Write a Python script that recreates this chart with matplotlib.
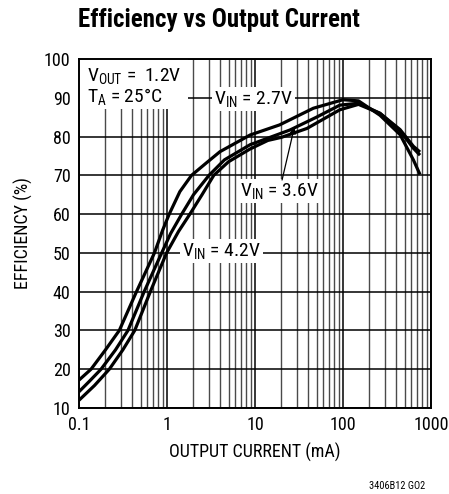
import matplotlib
matplotlib.use("Agg")
import matplotlib.pyplot as plt
from matplotlib import font_manager as fm
from matplotlib.patches import Rectangle
from matplotlib.ticker import FixedLocator, NullFormatter, FixedFormatter

_names = {f.name for f in fm.fontManager.ttflist}
_pref = ['Liberation Sans Narrow', 'Roboto Condensed', 'Archivo Narrow', 'Barlow Semi Condensed',
         'Asap Condensed', 'Liberation Sans']
NARROW = next(n for n in _pref if n in _names)
FONT = [NARROW, 'DejaVu Sans']
plt.rcParams['font.family'] = FONT
plt.rcParams['mathtext.fontset'] = 'custom'
plt.rcParams['mathtext.rm'] = NARROW
plt.rcParams['mathtext.it'] = NARROW
plt.rcParams['mathtext.default'] = 'rm'

# ---- data ----
x_27 = [0.1, 0.137, 0.2, 0.287, 0.45, 0.72, 0.89, 1.06, 1.4, 1.9, 2.8, 4, 8.8, 19, 46, 100, 150, 263, 445, 630, 750]
y_27 = [17.2, 20, 25, 30, 40, 50, 55.8, 60, 65.8, 70, 73.2, 76.1, 80.4, 83, 87.3, 89.5, 89.2, 85.5, 80.5, 74, 70.2]

x_36 = [0.1, 0.13, 0.178, 0.26, 0.36, 0.55, 0.87, 1.1, 1.47, 2.0, 3.0, 4.5, 8.8, 25, 50, 92, 150, 263, 445, 630, 750]
y_36 = [14.2, 16.8, 20, 25, 30, 40, 50, 55, 60, 65, 70, 74, 77.9, 81.7, 85, 88.1, 88.6, 86, 81.8, 77.5, 76]

x_42 = [0.1, 0.15, 0.221, 0.315, 0.43, 0.66, 0.99, 1.35, 1.82, 2.5, 3.4, 5, 8.8, 14, 20, 39, 92, 150, 263, 445, 630, 750]
y_42 = [12, 15.8, 20, 25, 30, 40.5, 50, 55.5, 60, 65, 70, 73.5, 76.8, 79, 79.8, 82.1, 86.9, 88.3, 86, 81.5, 77, 75.2]

x_ticks = [0.1, 1, 10, 100, 1000]
x_tick_labels = ['0.1', '1', '10', '100', '1000']
y_ticks = [10, 20, 30, 40, 50, 60, 70, 80, 90, 100]

fig = plt.figure(figsize=(4.49, 4.94), dpi=100)
ax = fig.add_axes([79/449, 1-408/494, 352/449, (408-59)/494])
ax.set_xscale('log')
ax.set_xlim(0.1, 1000)
ax.set_ylim(10, 100)

minor = [m * d for d in [0.1, 1, 10, 100] for m in range(2, 10)]
ax.xaxis.set_major_locator(FixedLocator(x_ticks))
ax.xaxis.set_major_formatter(FixedFormatter(x_tick_labels))
ax.xaxis.set_minor_locator(FixedLocator(minor))
ax.xaxis.set_minor_formatter(NullFormatter())
ax.yaxis.set_major_locator(FixedLocator(y_ticks))
ax.tick_params(which='both', length=0, labelsize=13, pad=6)
for lbl in ax.get_xticklabels() + ax.get_yticklabels():
    lbl.set_family(FONT)

ax.grid(True, which='major', color='black', lw=1.1, zorder=0.5)
ax.grid(True, which='minor', axis='x', color='#4a4a4a', lw=1.0, zorder=0.5)
ax.set_axisbelow(True)
for s in ax.spines.values():
    s.set_linewidth(1.4)
    s.set_zorder(5)

for xs, ys in [(x_27, y_27), (x_36, y_36), (x_42, y_42)]:
    ax.plot(xs, ys, color='black', lw=2.3, zorder=3, solid_capstyle='butt', solid_joinstyle='round')

# white box for top-left note
ax.add_patch(Rectangle((0.1, 87.2), 1.73 - 0.1, 12.8, facecolor='white', edgecolor='none', zorder=1))
ax.text(0.123, 95.6, r'V$_{OUT}$ =  1.2V', fontsize=14, va='center', ha='left', zorder=4)
ax.text(0.123, 90.4, r'T$_{A}$ = 25°C', fontsize=14, va='center', ha='left', zorder=4)

bb = dict(facecolor='white', edgecolor='none', pad=1.5)
ax.text(3.4, 89.6, r'V$_{IN}$ = 2.7V', fontsize=14, va='center', ha='left', zorder=2, bbox=bb)
ax.text(6.7, 66.0, r'V$_{IN}$ = 3.6V', fontsize=14, va='center', ha='left', zorder=2, bbox=bb)
ax.text(1.48, 50.5, r'V$_{IN}$ = 4.2V', fontsize=14, va='center', ha='left', zorder=2, bbox=bb)

ax.annotate('', xy=(28, 82.4), xytext=(20.3, 68.8),
            arrowprops=dict(arrowstyle='-|>', color='black', lw=0.9, mutation_scale=9,
                            shrinkA=0, shrinkB=0), zorder=4)

ax.set_xlabel('OUTPUT CURRENT (mA)', fontsize=13, labelpad=6)
ax.set_ylabel('EFFICIENCY (%)', fontsize=13, labelpad=8)
fig.text(219/449, 1-20/494, 'Efficiency vs Output Current', fontsize=18, fontweight='bold',
         ha='center', va='center')
fig.text(425/449, 1-486/494, '3406B12 GO2', fontsize=7.5, ha='right', va='center')

fig.savefig('out.png', dpi=100)
